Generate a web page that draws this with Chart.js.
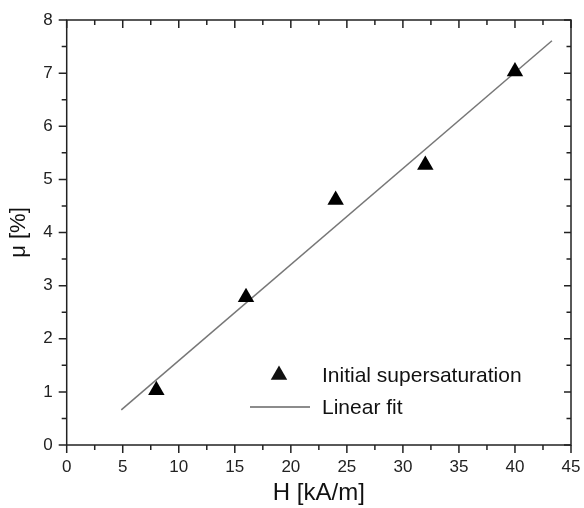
<!DOCTYPE html>
<html lang="en">
<head>
  <meta charset="UTF-8" />
  <title>Initial supersaturation vs H</title>
  <script src="https://cdn.jsdelivr.net/npm/chart.js"></script>
  <style>
    html, body { margin: 0; padding: 0; background: #fff; }
    #caixa { width: 584px; height: 508px; }
  </style>
</head>
<body>
  <div id="caixa"><canvas id="grafico" width="584" height="508"></canvas></div>

  <script>
    // valores
    const campoH = [8, 16, 24, 32, 40];
    const supersat = [1.03, 2.78, 4.61, 5.27, 7.03];
    const ajusteH = [4.87, 43.3];
    const ajusteMu = [0.66, 7.61];
    const xTicks = [0, 5, 10, 15, 20, 25, 30, 35, 40, 45];
    const yTicks = [0, 1, 2, 3, 4, 5, 6, 7, 8];

    const corEixo = '#222';
    const fonte = '"Liberation Sans", Arial, sans-serif';

    // moldura, tracos maiores/menores e legenda
    const moldura = {
      id: 'moldura',
      afterDraw(chart) {
        const ctx = chart.ctx;
        const a = chart.chartArea;
        const sx = chart.scales.x, sy = chart.scales.y;
        ctx.save();
        ctx.strokeStyle = corEixo;
        ctx.lineWidth = 1.5;
        ctx.strokeRect(a.left, a.top, a.right - a.left, a.bottom - a.top);

        ctx.beginPath();
        for (let i = 0; i < xTicks.length; i++) {
          const px = sx.getPixelForValue(xTicks[i]);
          ctx.moveTo(px, a.bottom); ctx.lineTo(px, a.bottom + 8);
          ctx.moveTo(px, a.top); ctx.lineTo(px, a.top + 8);
          if (i < xTicks.length - 1) {
            const pm = sx.getPixelForValue((xTicks[i] + xTicks[i + 1]) / 2);
            ctx.moveTo(pm, a.bottom); ctx.lineTo(pm, a.bottom + 5);
            ctx.moveTo(pm, a.top); ctx.lineTo(pm, a.top + 5);
          }
        }
        for (let i = 0; i < yTicks.length; i++) {
          const py = sy.getPixelForValue(yTicks[i]);
          ctx.moveTo(a.left - 8, py); ctx.lineTo(a.left, py);
          ctx.moveTo(a.right, py); ctx.lineTo(a.right - 7, py);
          if (i < yTicks.length - 1) {
            const pm = sy.getPixelForValue((yTicks[i] + yTicks[i + 1]) / 2);
            ctx.moveTo(a.left - 5, pm); ctx.lineTo(a.left, pm);
            ctx.moveTo(a.right, pm); ctx.lineTo(a.right - 4.5, pm);
          }
        }
        ctx.stroke();

        // legenda
        const ds = chart.data.datasets;
        ctx.fillStyle = '#111';
        ctx.font = '21px ' + fonte;
        ctx.textBaseline = 'middle';
        Chart.helpers.drawPoint(ctx, { pointStyle: 'triangle', radius: 9.5, rotation: 0 }, 279, 375);
        ctx.fillText(ds[0].label, 322, 376);
        ctx.strokeStyle = '#666';
        ctx.lineWidth = 1.5;
        ctx.beginPath();
        ctx.moveTo(250, 407); ctx.lineTo(310, 407);
        ctx.stroke();
        ctx.fillStyle = '#111';
        ctx.fillText(ds[1].label, 322, 408);
        ctx.restore();
      }
    };

    const ctx = document.getElementById('grafico').getContext('2d');
    new Chart(ctx, {
      type: 'scatter',
      data: {
        datasets: [{
          label: 'Initial supersaturation',
          data: campoH.map((h, i) => ({ x: h, y: supersat[i] })),
          pointStyle: 'triangle',
          pointRadius: 9.5,
          backgroundColor: '#000',
          borderWidth: 0,
          order: 1
        }, {
          label: 'Linear fit',
          type: 'line',
          data: ajusteH.map((h, i) => ({ x: h, y: ajusteMu[i] })),
          borderColor: '#777',
          borderWidth: 1.5,
          pointRadius: 0,
          fill: false,
          order: 2
        }]
      },
      options: {
        responsive: false,
        animation: false,
        devicePixelRatio: 1,
        layout: { padding: { top: 20, right: 13, left: 0, bottom: 0 } },
        plugins: { legend: { display: false }, tooltip: { enabled: false } },
        scales: {
          x: {
            type: 'linear', min: 0, max: 45,
            afterBuildTicks: s => { s.ticks = xTicks.map(v => ({ value: v })); },
            afterFit: s => { s.height = 63; s.paddingLeft = 0; s.paddingRight = 0; },
            grid: { display: false, drawTicks: false },
            border: { display: false },
            ticks: { padding: 12, color: '#222', font: { family: fonte, size: 17 } },
            title: { display: true, text: 'H [kA/m]', color: '#111', padding: { top: 0, bottom: 0 },
                     font: { family: fonte, size: 24 } }
          },
          y: {
            type: 'linear', min: 0, max: 8,
            afterBuildTicks: s => { s.ticks = yTicks.map(v => ({ value: v })); },
            afterFit: s => { s.width = 66.7; s.paddingTop = 0; s.paddingBottom = 0; },
            grid: { display: false, drawTicks: false },
            border: { display: false },
            ticks: { padding: 14, color: '#222', font: { family: fonte, size: 17 } },
            title: { display: true, text: 'μ [%]', color: '#111', padding: { top: 6, bottom: 0 },
                     font: { family: fonte, size: 22 } }
          }
        }
      },
      plugins: [moldura]
    });
  </script>
</body>
</html>
